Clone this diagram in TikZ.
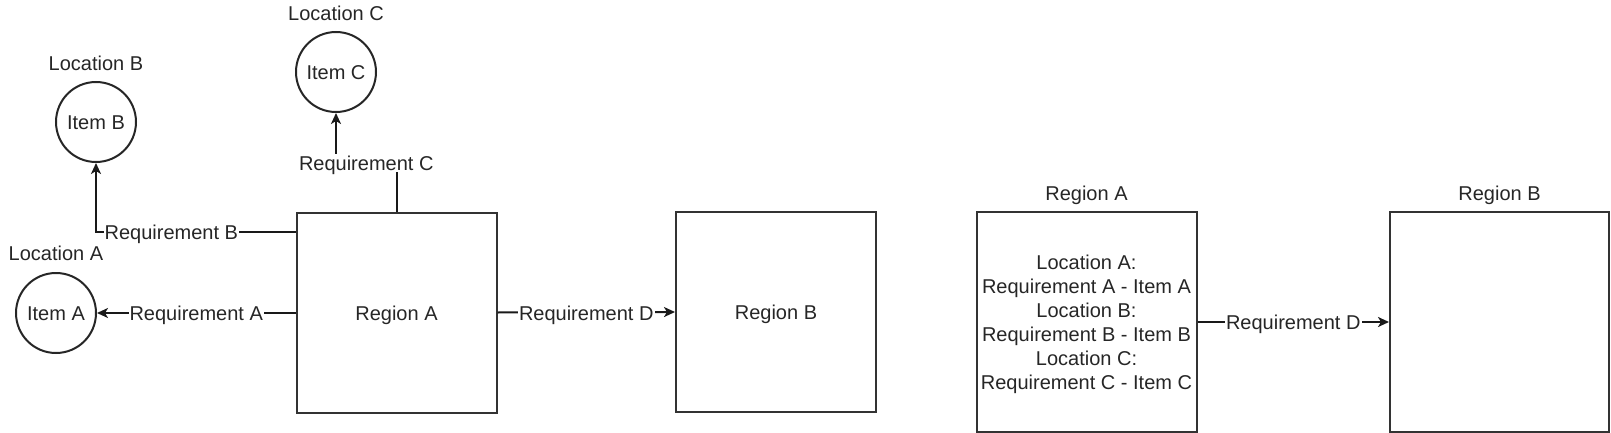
\documentclass[tikz,border=0pt]{standalone}
\usepackage{fontspec}
\setmainfont{Liberation Sans}
\usetikzlibrary{arrows.meta}
\begin{document}
\begin{tikzpicture}[x=1pt,y=-1pt,
  every node/.style={font=\fontsize{20}{24}\selectfont, inner sep=0pt, text=black!85, text height=15.5pt, text depth=0pt},
  regionbox/.style={draw=black!80, line width=2pt, minimum width=200pt, minimum height=200pt},
  bigbox/.style={draw=black!80, line width=2pt, minimum width=220pt, minimum height=220pt},
  itemcircle/.style={draw=black!85, circle, line width=2pt, minimum size=80pt},
  lbl/.style={fill=white, inner sep=1pt},
  conn/.style={line width=2pt, draw=black!90},
  arr/.style={conn, -{Stealth[length=11pt, width=10pt, inset=3pt]}}
]
\useasboundingbox (0,0) rectangle (1611,433);

% left diagram
\node[regionbox] (rA) at (396.5,312.5) {Region A};
\node[regionbox] (rB) at (776,312) {Region B};
\node[itemcircle] (cA) at (56,313) {Item A};
\node[itemcircle] (cB) at (96,122) {Item B};
\node[itemcircle] (cC) at (336,72) {Item C};
\node (locA) at (56,253) {Location A};
\node (locB) at (96,63) {Location B};
\node (locC) at (336,13) {Location C};

\draw[arr] (rA.west |- cA) -- node[lbl] {Requirement A} (cA.east);
\coordinate (bcorner) at (96,232);
\draw[arr] (rA.west |- bcorner) -- node[lbl, pos=0.6225] {Requirement B} (bcorner) -- (cB.south);
\coordinate (ccorner) at (396.5,163);
\draw[arr] (rA.north) -- (ccorner) -- node[lbl] {Requirement C} (cC.south |- ccorner) -- (cC.south);
\draw[arr] (rA.east) -- node[lbl] {Requirement D} (rB.west);

% right diagram
\node[bigbox] (rA2) at (1086.5,322) {};
\node[align=center, text height=, text depth=, yshift=-2.5pt] (txt) at (1086.5,322) {Location A:\\Requirement A - Item A\\Location B:\\Requirement B - Item B\\Location C:\\Requirement C - Item C};
\node[bigbox, minimum width=219pt] (rB2) at (1499.5,322) {};
\node (lblA2) at (1086.5,193) {Region A};
\node (lblB2) at (1499.5,193) {Region B};
\draw[arr] (rA2.east) -- node[lbl] {Requirement D} (rB2.west);
\end{tikzpicture}
\end{document}
